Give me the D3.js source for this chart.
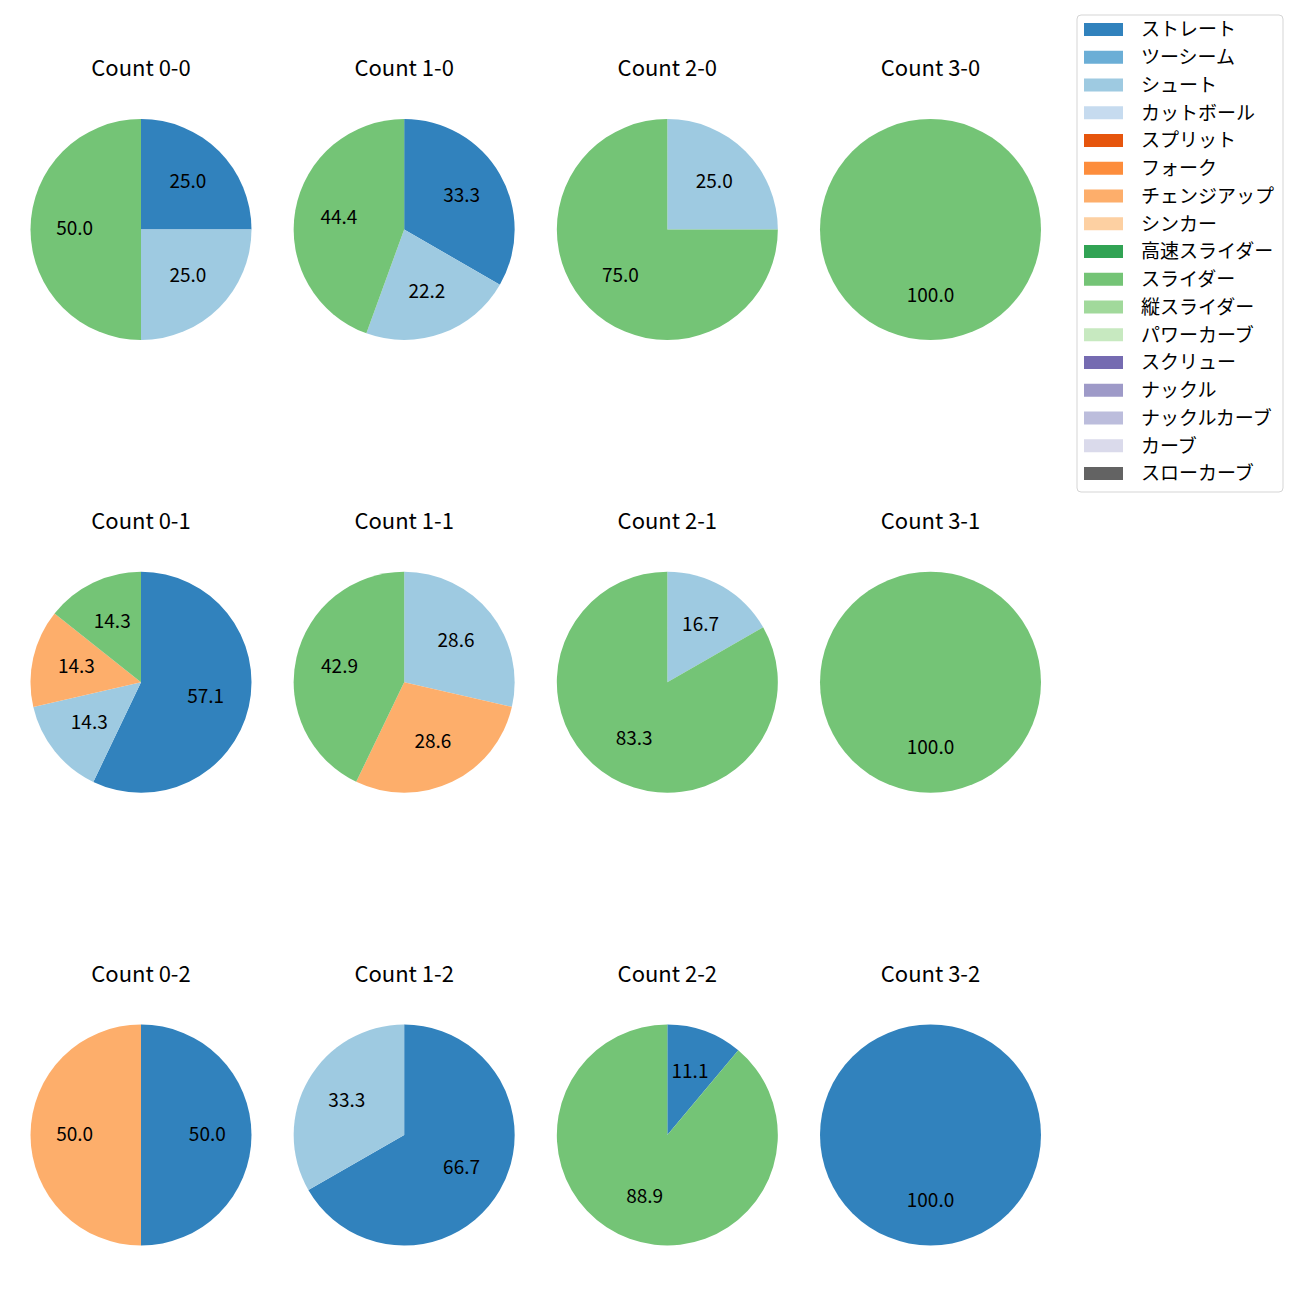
<!DOCTYPE html>
<html>
<head>
<meta charset="utf-8">
<script src="https://cdn.jsdelivr.net/npm/d3@7"></script>
<style>
  html, body { margin: 0; padding: 0; background: #fff; }
  text { font-family: "Noto Sans CJK JP", "Noto Sans", sans-serif; fill: #000; }
</style>
</head>
<body>
<svg id="chart" width="1300" height="1300"></svg>
<script>
// Pitch types (legend order) and their colours
const pitchTypes = ["ストレート","ツーシーム","シュート","カットボール","スプリット","フォーク","チェンジアップ","シンカー","高速スライダー","スライダー","縦スライダー","パワーカーブ","スクリュー","ナックル","ナックルカーブ","カーブ","スローカーブ"];
const pitchColors = ["#3182bd","#6baed6","#9ecae1","#c6dbef","#e6550d","#fd8d3c","#fdae6b","#fdd0a2","#31a354","#74c476","#a1d99b","#c7e9c0","#756bb1","#9e9ac8","#bcbddc","#dadaeb","#636363"];

// Panels: balls (column) x strikes (row)
const panelTitles = ["Count 0-0","Count 1-0","Count 2-0","Count 3-0",
                     "Count 0-1","Count 1-1","Count 2-1","Count 3-1",
                     "Count 0-2","Count 1-2","Count 2-2","Count 3-2"];

// Percentage per panel, for each pitch type that appears
const straightVals   = [25.0, 33.3, 0,    0,     57.1, 0,    0,    0,     50.0, 66.7, 11.1, 100.0];
const shootVals      = [25.0, 22.2, 25.0, 0,     14.3, 28.6, 16.7, 0,     0,    33.3, 0,    0];
const changeupVals   = [0,    0,    0,    0,     14.3, 28.6, 0,    0,     50.0, 0,    0,    0];
const sliderVals     = [50.0, 44.4, 75.0, 100.0, 14.3, 42.9, 83.3, 100.0, 0,    0,    88.9, 0];

const seriesByType = {
  "ストレート": straightVals,
  "シュート": shootVals,
  "チェンジアップ": changeupVals,
  "スライダー": sliderVals
};

const svg = d3.select("#chart");
const color = d3.scaleOrdinal().domain(pitchTypes).range(pitchColors);

const colX = d3.scaleLinear().domain([0, 3]).range([141, 930.5]);
const rowY = d3.scaleLinear().domain([0, 2]).range([229.5, 1135]);
const R = 110.5;

const pie = d3.pie().sort(null).value(d => d.value).startAngle(0).endAngle(2 * Math.PI);
const arc = d3.arc().innerRadius(0).outerRadius(R);
const labelArc = d3.arc().innerRadius(R * 0.6).outerRadius(R * 0.6);

panelTitles.forEach((title, i) => {
  const col = i % 4, row = Math.floor(i / 4);
  const cx = colX(col), cy = rowY(row);
  const data = pitchTypes
    .filter(t => seriesByType[t] && seriesByType[t][i] > 0)
    .map(t => ({ type: t, value: seriesByType[t][i] }));
  const total = d3.sum(data, d => d.value);
  const g = svg.append("g").attr("transform", `translate(${cx},${cy})`);
  const arcs = pie(data);
  g.selectAll("path").data(arcs).join("path")
    .attr("d", arc)
    .attr("fill", d => color(d.data.type));
  g.selectAll("text.lbl").data(arcs).join("text")
    .attr("class", "lbl")
    .attr("transform", d => `translate(${labelArc.centroid(d)})`)
    .attr("text-anchor", "middle")
    .attr("dy", "0.3em")
    .style("font-size", "19px")
    .text(d => d3.format(".1f")(d.data.value / total * 100));
  svg.append("text")
    .attr("x", cx).attr("y", cy - 160.5)
    .attr("text-anchor", "middle")
    .attr("dy", "0.33em")
    .style("font-size", "22px")
    .text(title);
});

// Legend
const legend = svg.append("g");
legend.append("rect")
  .attr("x", 1077).attr("y", 15).attr("width", 206).attr("height", 477)
  .attr("rx", 4).attr("fill", "#fff").attr("fill-opacity", 0.8)
  .attr("stroke", "#d5d5d5").attr("stroke-width", 1);
const legY = d3.scaleLinear().domain([0, pitchTypes.length - 1]).range([29.5, 473.5]);
pitchTypes.forEach((t, i) => {
  legend.append("rect")
    .attr("x", 1084).attr("y", legY(i) - 6.5).attr("width", 39).attr("height", 13)
    .attr("fill", color(t));
  legend.append("text")
    .attr("x", 1141).attr("y", legY(i))
    .attr("dy", "0.36em")
    .style("font-size", "19px")
    .text(t);
});
</script>
</body>
</html>
